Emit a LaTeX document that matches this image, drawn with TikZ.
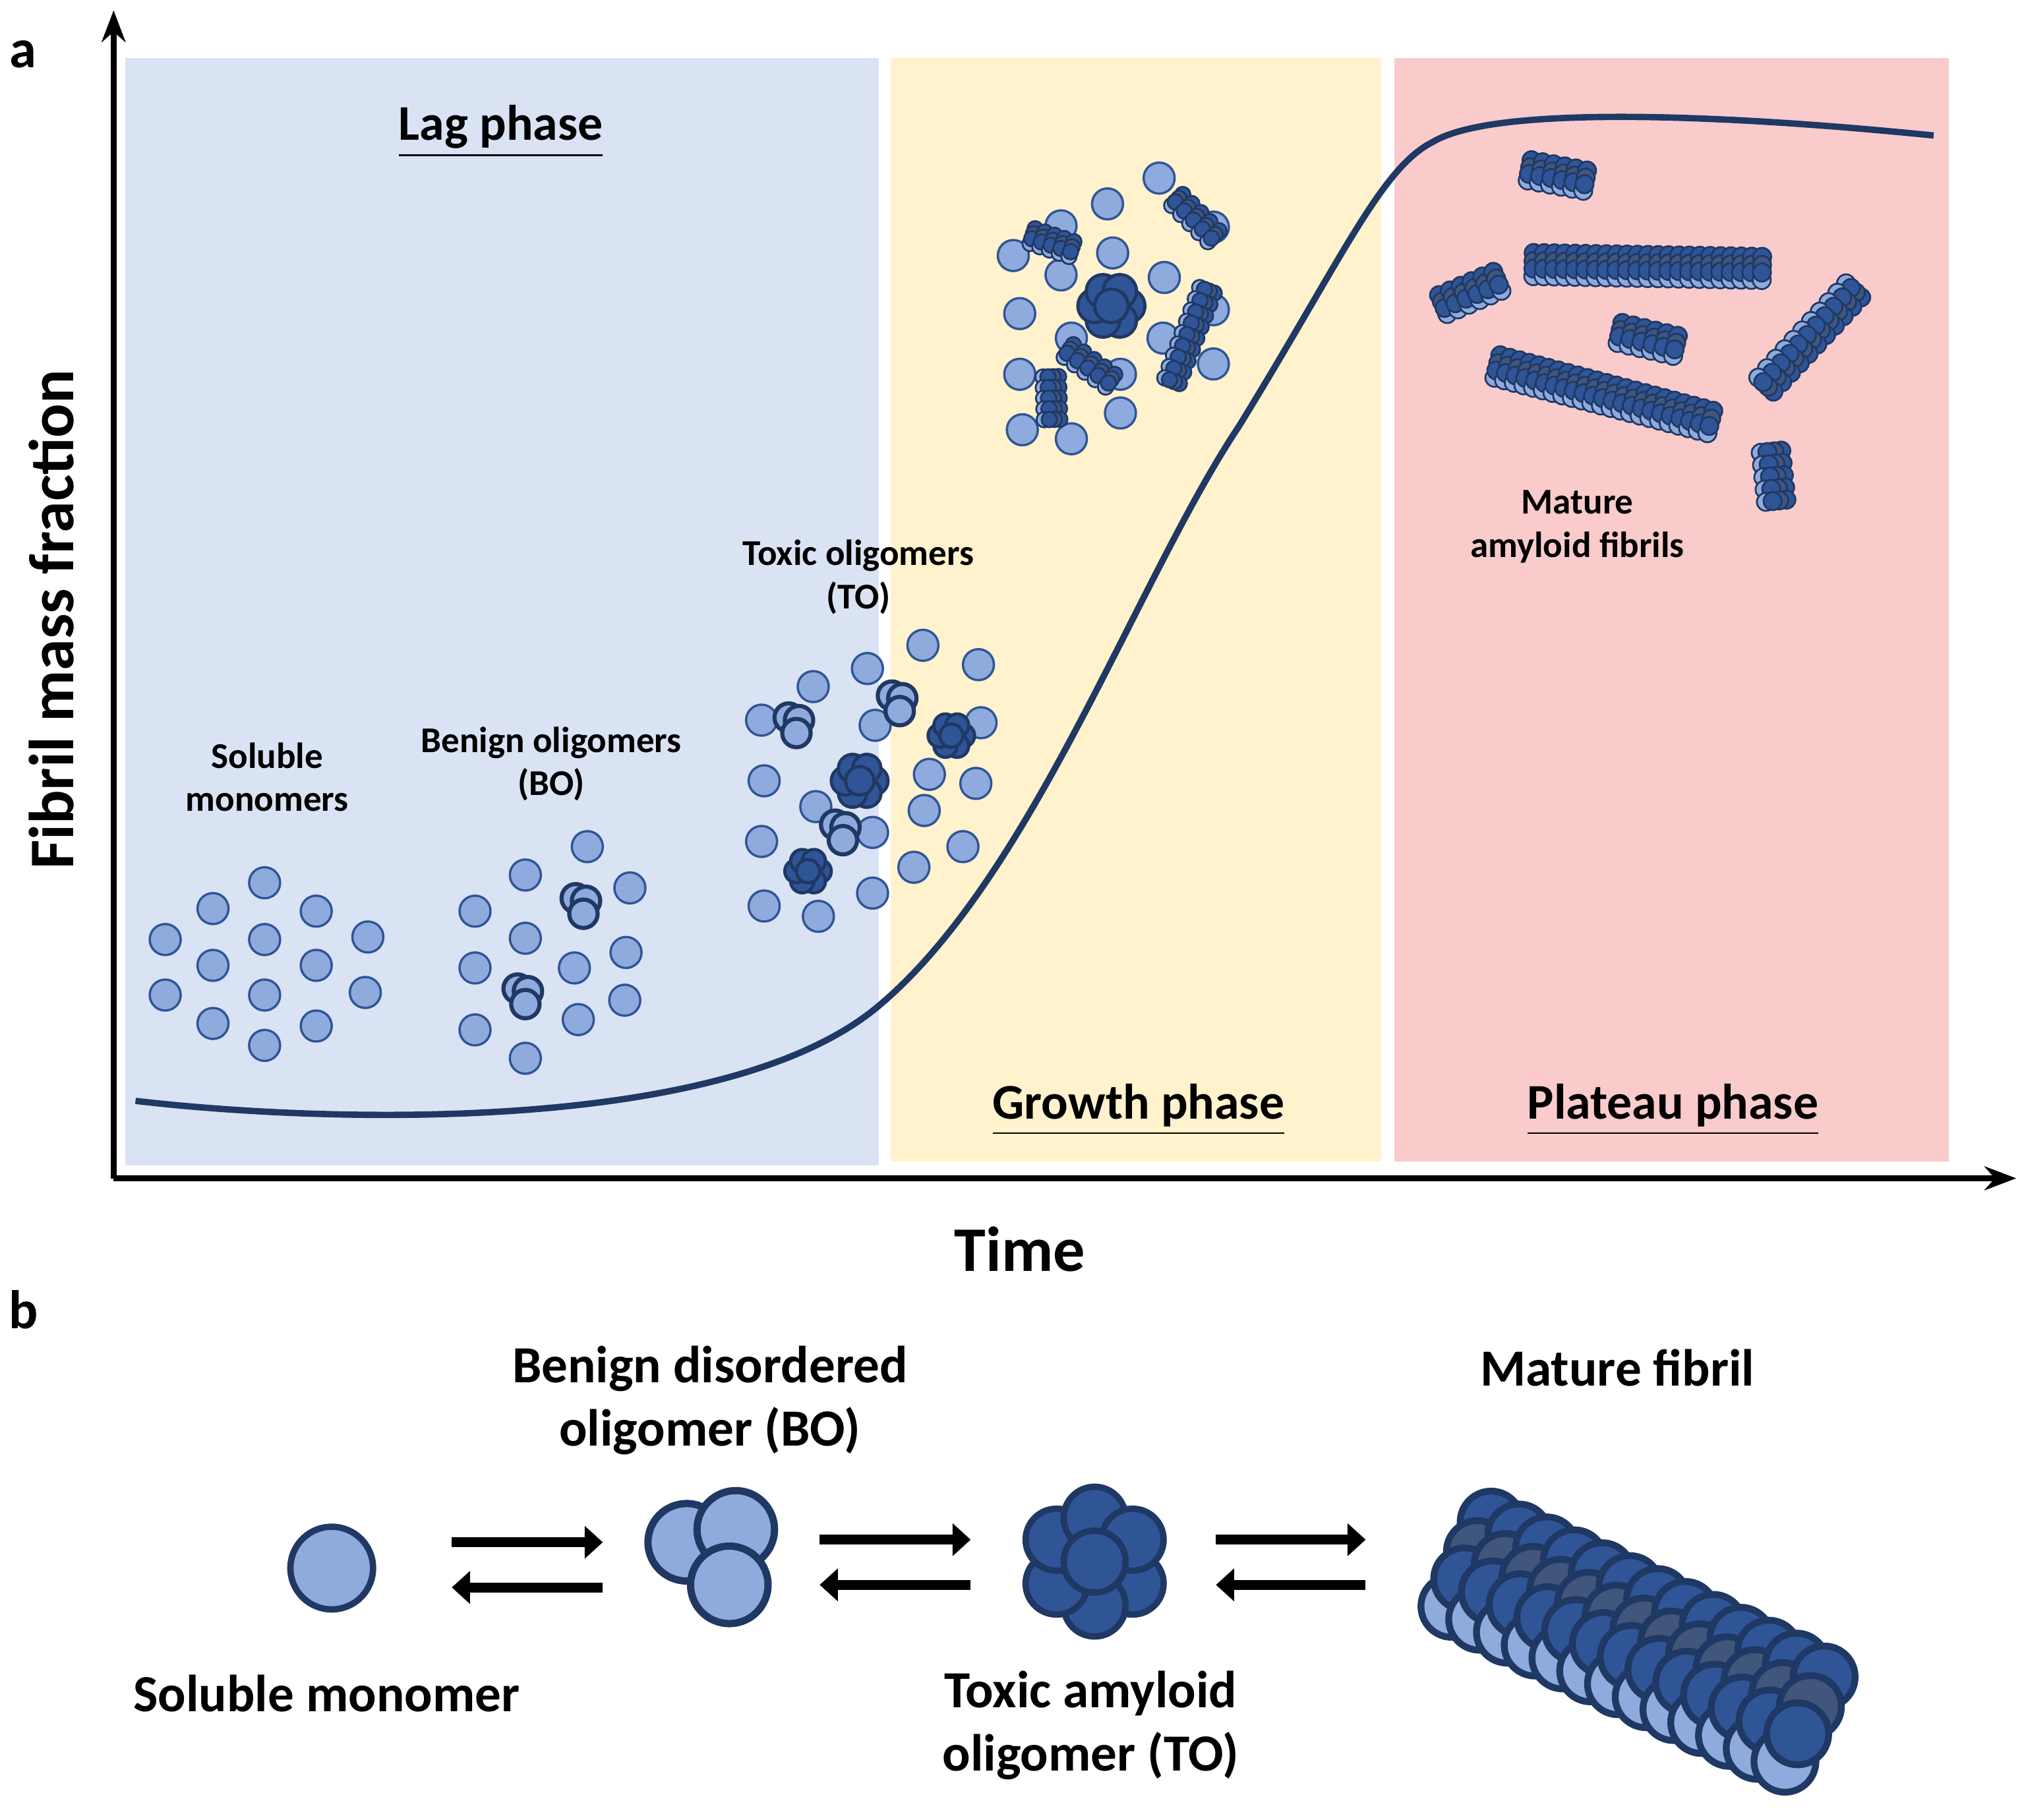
\documentclass[tikz,border=0pt]{standalone}
\usepackage{fontspec}
\setmainfont{Carlito}
\usepackage{tikz}
\usetikzlibrary{arrows.meta, calc}
\definecolor{lagbg}{HTML}{DAE3F3}
\definecolor{growbg}{HTML}{FFF2CC}
\definecolor{platbg}{HTML}{F9CBCB}
\definecolor{blight}{HTML}{8FAADC}
\definecolor{bmid}{HTML}{2F5597}
\definecolor{bdark}{HTML}{1F3864}
\tikzset{
  mono/.style={draw=bmid, fill=blight, line width=0.5pt},
  omono/.style={draw=bdark, fill=blight, line width=0.9pt},
  tmono/.style={draw=bdark, fill=bmid, line width=0.7pt},
  fl/.style={draw=bdark, fill=blight},
  fd/.style={draw=bdark, fill=bdark!85},
  fm/.style={draw=bdark, fill=bmid},
  phase/.style={font=\bfseries\fontsize{11}{12}\selectfont},
  lab/.style={font=\bfseries\fontsize{8}{9.5}\selectfont, align=center},
  blab/.style={font=\bfseries\fontsize{11.5}{14}\selectfont, align=center},
  eq/.style={line width=2.2pt, -{Triangle[length=4pt,width=7pt]}}
}
% oligomer of three, toxic cluster
\newcommand{\bol}[2]{%
  \draw[omono] (#1-4,#2-6) circle (0.11cm); \draw[omono] (#1+4,#2-4) circle (0.11cm);
  \draw[omono] (#1+2,#2+6) circle (0.11cm);}
\newcommand{\tol}[3]{%
  \foreach \a in {0,60,...,300} \draw[tmono] ($(#1,#2)+(\a:#3)$) circle (#3*0.01cm);
  \draw[tmono] (#1,#2) circle (#3*0.01cm);}
% fibril from (x1,y1) to (x2,y2), n steps, radius r, half width w
\newcommand{\fib}[7]{%
  \pgfmathsetmacro\fang{atan2(#4-#2,#3-#1)+90}
  \foreach \i in {0,...,#5} {
    \coordinate (fp) at ($(#1,#2)!\i/#5!(#3,#4)$);
    \draw[fm] ($(fp)+(\fang:-#7)$) circle (#6*0.01cm);
    \draw[fl] ($(fp)+(\fang:#7)$) circle (#6*0.01cm);
    \draw[fd] ($(fp)+(\fang:-0.3*#7)$) circle (#6*0.01cm);
    \draw[fm] ($(fp)+(\fang:0.35*#7)$) circle (#6*0.01cm);}}
\begin{document}
\begin{tikzpicture}[x=0.01cm, y=-0.01cm]
\useasboundingbox (0,0) rectangle (1568,1410);
% phases
\fill[lagbg] (97,45) rectangle (681,903);
\fill[growbg] (690,45) rectangle (1070,900);
\fill[platbg] (1080,45) rectangle (1510,900);
\node[phase] (lag) at (388,102) {\underline{Lag phase}};
\node[phase] (grow) at (882,860) {\underline{Growth phase}};
\node[phase] (plat) at (1296,860) {\underline{Plateau phase}};
% axes
\coordinate (o) at (88,913);
\coordinate (ytop) at (88,8);
\coordinate (xend) at (1562,913);
\draw[line width=1.3pt, -{Stealth[length=7pt]}] (o) -- (ytop);
\draw[line width=1.3pt, -{Stealth[length=7pt]}] (o) -- (xend);
\node[font=\bfseries\fontsize{14}{16}\selectfont, rotate=90] (ylab) at (40,480) {Fibril mass fraction};
\node[font=\bfseries\fontsize{14}{16}\selectfont] (xlab) at (790,968) {Time};
\node[font=\bfseries\fontsize{12}{14}\selectfont] (pa) at (18,42) {a};
\node[font=\bfseries\fontsize{12}{14}\selectfont] (pb) at (18,1015) {b};
% curve
\draw[bdark, line width=1.4pt] (105,853) .. controls (250,870) and (560,880) .. (680,780)
  .. controls (800,680) and (880,450) .. (960,330)
  .. controls (1040,200) and (1070,130) .. (1110,110)
  .. controls (1160,80) and (1350,90) .. (1498,105);
% soluble monomers
\foreach \p in {(128,728),(128,771),(165,704),(165,748),(165,793),(205,684),(205,728),(205,771),(205,810),(245,706),(245,748),(245,795),(285,726),(283,769)}
  \draw[mono] \p circle (0.12cm);
\node[lab] (sm) at (207,602) {Soluble\\monomers};
% benign oligomers
\foreach \p in {(407,678),(455,656),(488,688),(368,706),(407,727),(368,750),(445,750),(485,738),(368,798),(448,790),(484,775),(407,820)}
  \draw[mono] \p circle (0.12cm);
\bol{450}{702} \bol{405}{772}
\node[lab] (bo) at (427,592) {Benign oligomers\\(BO)};
% toxic oligomers
\foreach \p in {(630,532),(672,518),(715,500),(758,515),(590,558),(760,560),(678,562),(592,605),(720,600),(756,607),(632,625),(716,628),(590,652),(676,645),(746,656),(708,672),(592,702),(634,710),(676,692)}
  \draw[mono] \p circle (0.12cm);
\bol{615}{562} \bol{695}{545} \bol{651}{645}
\tol{666}{605}{11} \tol{626}{675}{9} \tol{737}{570}{9}
\node[lab] (to) at (665,447) {Toxic oligomers\\(TO)};
% growth group
\foreach \p in {(898,138),(858,158),(822,175),(785,198),(862,196),(822,213),(940,176),(902,215),(790,243),(940,240),(830,262),(901,262),(790,290),(868,290),(940,282),(830,340),(868,320),(792,333)}
  \draw[mono] \p circle (0.12cm);
\tol{861}{237}{13}
\begin{scope}[line width=0.4pt]
\fib{800}{183}{830}{193}{4}{6}{6}
\fib{912}{155}{940}{183}{4}{6}{6}
\fib{828}{272}{860}{295}{4}{6}{6}
\fib{814}{292}{815}{325}{4}{6}{6}
\fib{935}{225}{908}{295}{8}{6}{6}
% plateau fibrils
\fib{1185}{132}{1228}{140}{5}{7}{8}
\fib{1188}{205}{1365}{208}{22}{7}{9}
\fib{1118}{236}{1160}{218}{5}{7}{8}
\fib{1255}{258}{1298}{268}{5}{7}{8}
\fib{1160}{284}{1325}{327}{22}{7}{9}
\fib{1436}{225}{1368}{298}{10}{7}{8}
\fib{1372}{350}{1376}{388}{4}{7}{8}
\end{scope}
\node[lab] (mf) at (1222,408) {Mature\\amyloid fibrils};
% part b
\draw[mono, line width=1.4pt, draw=bdark] (257,1215) circle (0.32cm);
\coordinate (a1) at (350,1195); \coordinate (a2) at (467,1195);
\coordinate (a3) at (467,1230); \coordinate (a4) at (350,1230);
\draw[eq] (a1) -- (a2); \draw[eq] (a3) -- (a4);
\foreach \p in {(532,1195),(570,1185),(565,1228)}
  \draw[omono, line width=1.6pt] \p circle (0.30cm);
\coordinate (b1) at (635,1193); \coordinate (b2) at (752,1193);
\coordinate (b3) at (752,1228); \coordinate (b4) at (635,1228);
\draw[eq] (b1) -- (b2); \draw[eq] (b3) -- (b4);
\foreach \a in {30,90,...,330} \draw[tmono, line width=1.4pt] ($(848,1210)+(\a:34)$) circle (0.24cm);
\draw[tmono, line width=1.4pt] (848,1210) circle (0.24cm);
\coordinate (c1) at (942,1193); \coordinate (c2) at (1058,1193);
\coordinate (c3) at (1058,1228); \coordinate (c4) at (942,1228);
\draw[eq] (c1) -- (c2); \draw[eq] (c3) -- (c4);
\begin{scope}[line width=1.5pt]
\fib{1140}{1212}{1398}{1332}{12}{24}{36}
\end{scope}
\node[blab] (lsm) at (253,1312) {Soluble monomer};
\node[blab] (lbo) at (550,1085) {Benign disordered\\oligomer (BO)};
\node[blab] (lto) at (845,1337) {Toxic amyloid\\oligomer (TO)};
\node[blab] (lmf) at (1253,1060) {Mature fibril};
\end{tikzpicture}
\end{document}
